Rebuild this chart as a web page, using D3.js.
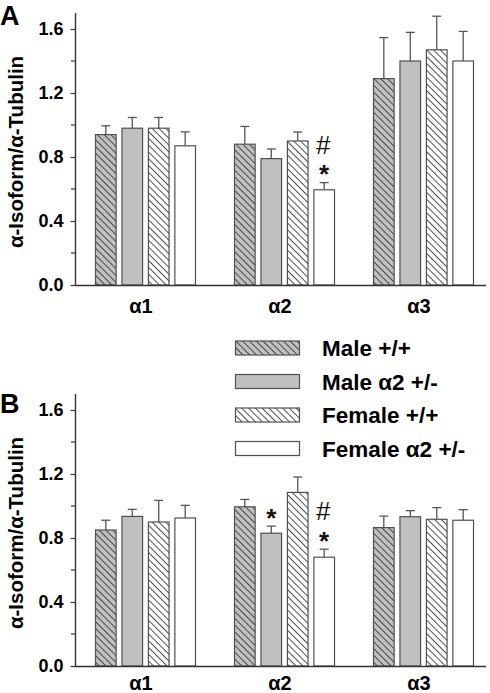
<!DOCTYPE html>
<html><head><meta charset="utf-8">
<script src="https://cdn.jsdelivr.net/npm/d3@7"></script>
<style>body{margin:0;background:#fff}svg{display:block}</style>
</head><body>
<script>
const categories = ["α1", "α2", "α3"];
const series = ["Male +/+", "Male α2 +/-", "Female +/+", "Female α2 +/-"];
const yTicks = [0, 0.4, 0.8, 1.2, 1.6];
const yMinorTicks = [0.2, 0.6, 1.0, 1.4];
// panel A: means and SEM, per category then series
const meansA = [[0.94, 0.98, 0.98, 0.87], [0.88, 0.79, 0.90, 0.595], [1.29, 1.40, 1.47, 1.40]];
const errA = [[0.055, 0.067, 0.067, 0.087], [0.111, 0.06, 0.056, 0.045], [0.256, 0.179, 0.21, 0.185]];
// panel B
const meansB = [[0.85, 0.935, 0.90, 0.925], [0.995, 0.83, 1.085, 0.68], [0.865, 0.933, 0.917, 0.911]];
const errB = [[0.061, 0.044, 0.135, 0.079], [0.046, 0.044, 0.096, 0.05], [0.072, 0.038, 0.073, 0.066]];
// significance marks: [category index, series index, symbols]
const marksA = [[1, 3, ["#", "*"]]];
const marksB = [[1, 1, ["*"]], [1, 3, ["#", "*"]]];

const W = 490, H = 693;
const FONT = "'Liberation Sans', Arial, Helvetica, sans-serif";
const svg = d3.select("body").append("svg").attr("width", W).attr("height", H);
const defs = svg.append("defs");
function hatch(id, bg) {
  const s = 4.8;
  const p = defs.append("pattern").attr("id", id).attr("patternUnits", "userSpaceOnUse")
    .attr("width", s).attr("height", s).attr("patternTransform", "rotate(-45)");
  p.append("rect").attr("width", s).attr("height", s).attr("fill", bg);
  p.append("line").attr("x1", s / 2).attr("x2", s / 2).attr("y1", 0).attr("y2", s)
    .attr("stroke", "#333").attr("stroke-width", 0.85);
}
const GRAY = "#c0c0c0";
hatch("hGray", GRAY);
hatch("hWhite", "#fff");
const fills = ["url(#hGray)", GRAY, "url(#hWhite)", "#fff"];

const x = d3.scaleBand().domain(categories).range([74.5, 491.5]).padding(0);
const xi = d3.scaleBand().domain(series).range([-50, 50]).paddingInner(0.22).paddingOuter(0);

function panel(letter, means, errs, marks, top, bottom, letterBase, catOffset) {
  const y = d3.scaleLinear().domain([0, 1.7]).range([bottom, top]);
  const g = svg.append("g");
  categories.forEach((c, ci) => {
    const cx = x(c) + x.bandwidth() / 2 + 1.5;
    series.forEach((s, si) => {
      const bx = cx + xi(s);
      const v = means[ci][si], e = errs[ci][si];
      const mx = bx + xi.bandwidth() / 2;
      g.append("line").attr("x1", mx).attr("x2", mx).attr("y1", y(v)).attr("y2", y(v + e))
        .attr("stroke", "#555").attr("stroke-width", 1.3);
      g.append("line").attr("x1", mx - 4.5).attr("x2", mx + 4.5).attr("y1", y(v + e)).attr("y2", y(v + e))
        .attr("stroke", "#555").attr("stroke-width", 1.3);
      g.append("rect").attr("x", bx).attr("y", y(v)).attr("width", xi.bandwidth()).attr("height", y(0) - y(v))
        .attr("fill", fills[si]).attr("stroke", "#505050").attr("stroke-width", 1.2);
    });
  });
  // significance marks
  marks.forEach(([ci, si, syms]) => {
    const c = categories[ci], s = series[si];
    const mx = x(c) + x.bandwidth() / 2 + 1.5 + xi(s) + xi.bandwidth() / 2;
    const topE = y(means[ci][si] + errs[ci][si]);
    syms.forEach(sym => {
      if (sym === "*") {
        g.append("text").attr("x", mx).attr("y", topE + 0.8).attr("text-anchor", "middle")
          .attr("font-family", FONT).attr("font-size", 26).attr("font-weight", "bold")
          .attr("fill", "#111").text("*");
      } else {
        g.append("text").attr("x", mx - 1).attr("y", topE - 29).attr("text-anchor", "middle")
          .attr("font-family", FONT).attr("font-size", 26).attr("fill", "#111").text("#");
      }
    });
  });
  // y axis
  const ax = d3.axisLeft(y).tickValues(yTicks).tickFormat(d3.format(".1f")).tickSize(5).tickPadding(7);
  const ag = g.append("g").attr("transform", "translate(75.5,0)").call(ax);
  ag.select(".domain").attr("d", `M-0,${top}V${bottom}`).attr("stroke", "#333").attr("stroke-width", 1.4);
  ag.selectAll(".tick line").attr("stroke", "#333").attr("stroke-width", 1.2);
  ag.selectAll(".tick text").attr("font-family", FONT).attr("font-size", 18).attr("font-weight", "bold")
    .attr("fill", "#000");
  ag.selectAll(".minor").data(yMinorTicks).enter().append("line").attr("class", "minor")
    .attr("x1", -4.5).attr("x2", 0).attr("y1", d => y(d)).attr("y2", d => y(d))
    .attr("stroke", "#333").attr("stroke-width", 1.2);
  // x axis line
  g.append("line").attr("x1", 75).attr("x2", 486).attr("y1", bottom + 0.5).attr("y2", bottom + 0.5)
    .attr("stroke", "#333").attr("stroke-width", 1.4);
  // category labels
  categories.forEach(c => {
    g.append("text").attr("x", x(c) + x.bandwidth() / 2 - 3).attr("y", bottom + catOffset)
      .attr("text-anchor", "middle").attr("font-family", FONT).attr("font-size", 20)
      .attr("font-weight", "bold").text(c);
  });
  // y label
  g.append("text").attr("transform", `translate(23,${(top + bottom) / 2 + 3}) rotate(-90)`)
    .attr("text-anchor", "middle").attr("font-family", FONT).attr("font-size", 20.5)
    .attr("font-weight", "bold").text("α-Isoform/α-Tubulin");
  // panel letter
  g.append("text").attr("x", 0).attr("y", letterBase).attr("font-family", FONT).attr("font-size", 27)
    .attr("font-weight", "bold").text(letter);
}

panel("A", meansA, errA, marksA, 13, 285, 25, 28);
panel("B", meansB, errB, marksB, 394, 666, 413, 24);

// legend
const lg = svg.append("g");
series.forEach((s, i) => {
  const yy = 341 + i * 33.5;
  lg.append("rect").attr("x", 235.5).attr("y", yy).attr("width", 64).attr("height", 14)
    .attr("fill", fills[i]).attr("stroke", "#505050").attr("stroke-width", 1.2);
  lg.append("text").attr("x", 322).attr("y", yy + 15).attr("font-family", FONT).attr("font-size", 22.5)
    .attr("font-weight", "bold").text(s);
});
</script>
</body></html>
